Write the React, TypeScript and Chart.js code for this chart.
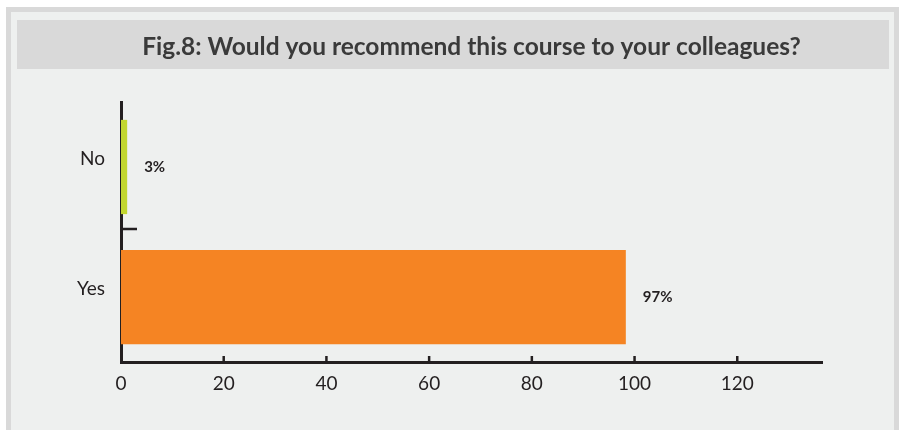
import React, { useEffect, useRef } from "react";
import { Chart, registerables } from "chart.js";

Chart.register(...registerables);

const categories = ["No", "Yes"];
const barValues = [1.2, 98.3];
const valueLabels = ["3%", "97%"];
const barColors = ["#c2d62f", "#f58423"];
const xTickValues = [0, 20, 40, 60, 80, 100, 120];
const xMax = 136.5;
const titleText = "Fig.8: Would you recommend this course to your colleagues?";

const INK = "#231f20";

const backgroundPlugin = {
  id: "panelBackground",
  beforeDraw(chart: any) {
    const ctx = chart.ctx;
    const w = chart.width;
    const h = chart.height;
    ctx.save();
    ctx.fillStyle = "#ffffff";
    ctx.fillRect(0, 0, w, h);
    ctx.fillStyle = "#d9d9d9";
    ctx.fillRect(6, 7, w - 6, h - 7);
    ctx.fillStyle = "#eef0ef";
    ctx.fillRect(11, 12, w - 16, h - 12);
    ctx.fillStyle = "#d9d9d9";
    ctx.fillRect(17, 20, w - 27, 49);
    ctx.restore();
  },
};

const innerTicksPlugin = {
  id: "innerTicks",
  afterDraw(chart: any) {
    const ctx = chart.ctx;
    const xs = chart.scales.x;
    const ys = chart.scales.y;
    const area = chart.chartArea;
    ctx.save();
    ctx.strokeStyle = INK;
    ctx.lineWidth = 2.5;
    xTickValues.forEach((v) => {
      if (v === 0) return;
      const px = xs.getPixelForValue(v);
      ctx.beginPath();
      ctx.moveTo(px, area.bottom);
      ctx.lineTo(px, area.bottom - 6);
      ctx.stroke();
    });
    for (let i = 0; i < categories.length - 1; i++) {
      const py = ys.getPixelForValue(i + 0.5) - 3;
      ctx.beginPath();
      ctx.moveTo(area.left, py);
      ctx.lineTo(area.left + 16, py);
      ctx.stroke();
    }
    ctx.restore();
  },
};

const valueLabelPlugin = {
  id: "valueLabels",
  afterDatasetsDraw(chart: any) {
    const ctx = chart.ctx;
    const meta = chart.getDatasetMeta(0);
    ctx.save();
    ctx.fillStyle = INK;
    ctx.font = "bold 15px Lato";
    ctx.textAlign = "left";
    ctx.textBaseline = "middle";
    meta.data.forEach((bar: any, i: number) => {
      ctx.fillText(valueLabels[i], bar.x + 17, bar.y);
    });
    ctx.restore();
  },
};

export default function App() {
  const canvasRef = useRef<HTMLCanvasElement | null>(null);

  useEffect(() => {
    if (!canvasRef.current) return;
    const chart = new Chart(canvasRef.current, {
      type: "bar",
      data: {
        labels: categories,
        datasets: [
          {
            data: barValues,
            backgroundColor: barColors,
            borderWidth: 0,
            barPercentage: 0.725,
            categoryPercentage: 1,
          },
        ],
      },
      options: {
        indexAxis: "y",
        responsive: false,
        animation: false,
        devicePixelRatio: 1,
        layout: { padding: { left: 0, right: 77, top: 0, bottom: 0 } },
        plugins: {
          legend: { display: false },
          tooltip: { enabled: false },
          title: {
            display: true,
            text: titleText,
            fullSize: false,
            color: "#3a3a3a",
            font: { family: "Lato", size: 24.5, weight: "bold", lineHeight: 1.2 },
            padding: { top: 32, bottom: 40.6 },
          },
        },
        scales: {
          x: {
            type: "linear",
            min: 0,
            max: xMax,
            grid: { display: false, drawTicks: false },
            border: { display: true, color: INK, width: 3 },
            ticks: {
              stepSize: 20,
              color: INK,
              font: { family: "Lato", size: 19 },
              padding: 10,
            },
            afterBuildTicks: (scale: any) => {
              scale.ticks = scale.ticks.filter((t: any) => xTickValues.includes(t.value));
            },
            afterFit: (scale: any) => {
              scale.height = 68;
            },
          },
          y: {
            type: "category",
            grid: { display: false, drawTicks: false },
            border: { display: true, color: INK, width: 3 },
            ticks: {
              color: INK,
              font: { family: "Lato", size: 19 },
              padding: 16,
              labelOffset: -8,
            },
            afterFit: (scale: any) => {
              scale.width = 121;
            },
          },
        },
      },
      plugins: [backgroundPlugin, innerTicksPlugin, valueLabelPlugin],
    });
    return () => chart.destroy();
  }, []);

  return (
    <div style={{ position: "absolute", left: 0, top: 0, width: 899, height: 430 }}>
      <canvas ref={canvasRef} width={899} height={430} style={{ display: "block" }} />
    </div>
  );
}
